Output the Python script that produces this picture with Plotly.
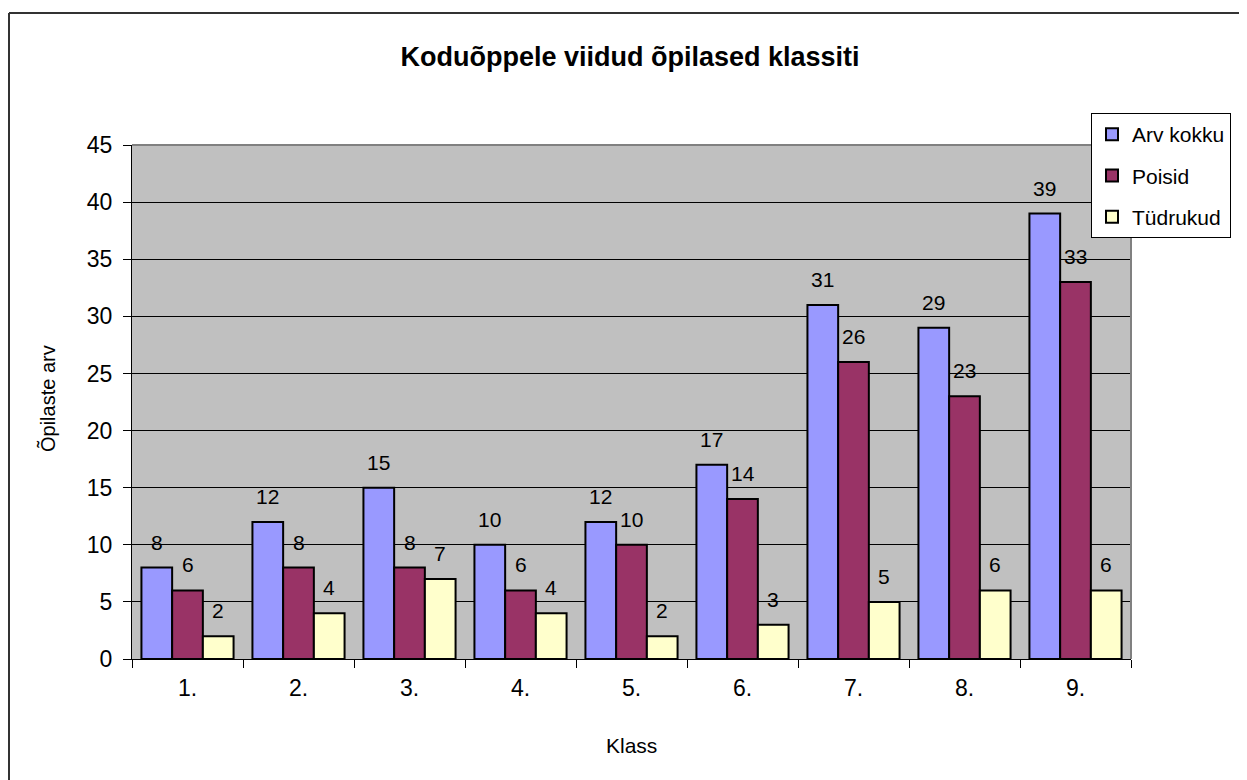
import plotly.graph_objects as go

classes = ["1.", "2.", "3.", "4.", "5.", "6.", "7.", "8.", "9."]
arv_kokku = [8, 12, 15, 10, 12, 17, 31, 29, 39]
poisid = [6, 8, 8, 6, 10, 14, 26, 23, 33]
tudrukud = [2, 4, 7, 4, 2, 3, 5, 6, 6]

series_names = ["Arv kokku", "Poisid", "Tüdrukud"]
series_values = [arv_kokku, poisid, tudrukud]
series_colors = ["#9999FF", "#993366", "#FFFFCC"]

# page body has an 8px default margin: figure is drawn from screen (8, 8)
OFF = 8
W, H = 1247 - OFF, 780 - OFF
ML, MR, MT, MB = 132 - OFF, 116, 145 - OFF, 121
PW = W - ML - MR
PH = H - MT - MB
BARGAP = 0.17
FONT = "Liberation Sans, Arial, sans-serif"

fig = go.Figure()
for i, (name, vals, col) in enumerate(zip(series_names, series_values, series_colors)):
    fig.add_trace(go.Bar(
        x=classes, y=vals, name=name, legendgroup=name,
        marker=dict(color=col, line=dict(color="black", width=2)),
    ))

# data labels
cat_px = PW / len(classes)
bar_px = cat_px * (1 - BARGAP) / len(series_names)
annotations = []
for i, vals in enumerate(series_values):
    for ci, v in enumerate(vals):
        annotations.append(dict(
            x=ci, y=v, xref="x", yref="y", text=str(v), showarrow=False,
            xshift=(i - 1) * bar_px, yshift=12, yanchor="bottom",
            font=dict(size=21, color="black", family=FONT),
        ))

def px_x(p):  # screen px -> paper
    return (p - OFF - ML) / PW

def px_y(p):
    return (H - MB - (p - OFF)) / PH

annotations.append(dict(text="Klass", x=px_x(631), y=px_y(745), xref="paper", yref="paper",
                        showarrow=False, xanchor="center", yanchor="middle",
                        font=dict(size=21, color="black", family=FONT)))
annotations.append(dict(text="Õpilaste arv", x=px_x(47), y=px_y(399), xref="paper", yref="paper",
                        showarrow=False, textangle=-90, xanchor="center", yanchor="middle",
                        font=dict(size=20, color="black", family=FONT)))

shapes = [
    # outer chart border (top and left visible)
    dict(type="line", xref="paper", yref="paper", x0=px_x(9), x1=px_x(1260), y0=px_y(13), y1=px_y(13),
         line=dict(color="#333333", width=2), layer="above"),
    dict(type="line", xref="paper", yref="paper", x0=px_x(9), x1=px_x(9), y0=px_y(13), y1=px_y(800),
         line=dict(color="#333333", width=2), layer="above"),
    # plot area border top/right
    dict(type="line", xref="paper", yref="paper", x0=0, x1=1, y0=1, y1=1,
         line=dict(color="#808080", width=2), layer="above"),
    dict(type="line", xref="paper", yref="paper", x0=1, x1=1, y0=0, y1=1,
         line=dict(color="#808080", width=2), layer="above"),
]

fig.update_layout(
    width=W, height=H,
    margin=dict(l=ML, r=MR, t=MT, b=MB, autoexpand=False),
    paper_bgcolor="white", plot_bgcolor="#C0C0C0",
    barmode="group", bargap=BARGAP, bargroupgap=0,
    font=dict(family=FONT, color="black"),
    title=dict(text="<b>Koduõppele viidud õpilased klassiti</b>", x=(630 - OFF) / W, xanchor="center",
               y=1 - (57 - OFF) / H, yanchor="middle", yref="container",
               font=dict(size=27, color="black", family=FONT)),
    legend=dict(x=px_x(1091), y=px_y(113), xanchor="left", yanchor="top",
                bgcolor="white", bordercolor="black", borderwidth=1,
                font=dict(size=21, color="black", family=FONT),
                tracegroupgap=11, traceorder="grouped"),
    xaxis=dict(type="category", range=[-0.5, len(classes) - 0.5], tickson="boundaries",
               ticks="outside", ticklen=8, tickcolor="black", ticklabelstandoff=8,
               showline=True, linecolor="black", linewidth=1, showgrid=False,
               tickfont=dict(size=23, color="black", family=FONT)),
    yaxis=dict(range=[0, 45], dtick=5, ticks="outside", ticklen=8, tickcolor="black",
               ticklabelstandoff=6,
               showline=True, linecolor="black", linewidth=1, showgrid=True, gridcolor="black",
               gridwidth=1, zeroline=False,
               tickfont=dict(size=23, color="black", family=FONT)),
    annotations=annotations, shapes=shapes,
)

fig.write_html("out.html")
